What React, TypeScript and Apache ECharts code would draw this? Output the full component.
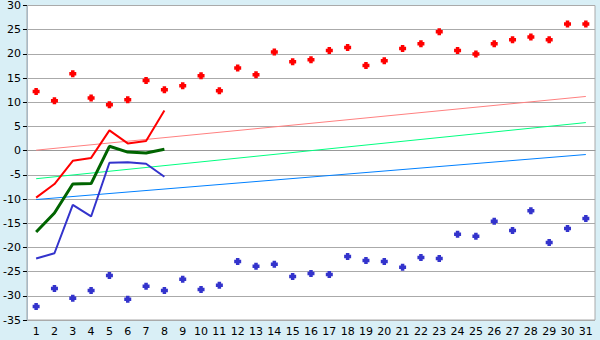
import React, { useEffect, useRef } from "react";
import * as echarts from "echarts";

const days = Array.from({ length: 31 }, (_, i) => String(i + 1));

const redPoints = [12.2, 10.3, 15.9, 10.9, 9.5, 10.5, 14.5, 12.6, 13.4, 15.5, 12.4, 17.1, 15.7, 20.4, 18.4, 18.8, 20.7, 21.3, 17.6, 18.6, 21.1, 22.1, 24.6, 20.7, 20.0, 22.1, 22.9, 23.5, 22.9, 26.2, 26.2];
const bluePoints = [-32.2, -28.5, -30.5, -28.9, -25.8, -30.7, -28.0, -28.9, -26.6, -28.7, -27.8, -22.9, -23.9, -23.5, -26.0, -25.4, -25.6, -21.9, -22.7, -22.9, -24.1, -22.1, -22.3, -17.3, -17.7, -14.6, -16.5, -12.4, -19.0, -16.1, -14.0];
const redLine = [-9.7, -6.9, -2.1, -1.5, 4.2, 1.5, 2.0, 8.3];
const greenLine = [-16.8, -12.9, -6.9, -6.8, 0.9, -0.3, -0.5, 0.3];
const blueLine = [-22.3, -21.2, -11.2, -13.6, -2.5, -2.4, -2.7, -5.4];
// trend lines: only start (day 1) and end (day 31) values
const pinkTrend = [0.1, 11.2];
const greenTrend = [-5.8, 5.8];
const blueTrend = [-10.1, -0.8];

const yTicks = { min: -35, max: 30, interval: 5 };

const endpoints = (pair: number[]) =>
  days.map((_, i) => (i === 0 ? pair[0] : i === days.length - 1 ? pair[1] : null));

const plus = "path://M1.5,0H4.5V1.5H6V4.5H4.5V6H1.5V4.5H0V1.5H1.5Z";

export default function App() {
  const ref = useRef<HTMLDivElement>(null);
  useEffect(() => {
    document.body.style.margin = "0";
    const chart = echarts.init(ref.current!, null, { renderer: "svg" });
    const trend = (data: number[], color: string) => ({
      type: "line",
      data: endpoints(data),
      connectNulls: true,
      showSymbol: false,
      symbol: "none",
      lineStyle: { color, width: 1 },
      z: 2,
    });
    const line = (data: number[], color: string, width: number) => ({
      type: "line",
      data,
      symbol: "none",
      lineStyle: { color, width },
      z: 3,
    });
    const scatter = (data: number[], color: string) => ({
      type: "scatter",
      data,
      symbol: plus,
      symbolSize: 7,
      itemStyle: { color, opacity: 1 },
      z: 4,
    });
    chart.setOption({
      animation: false,
      backgroundColor: "#d9eff6",
      textStyle: { fontFamily: "DejaVu Sans" },
      grid: {
        left: 26,
        right: 5,
        top: 5,
        bottom: 20,
        show: true,
        backgroundColor: "#ffffff",
        borderColor: "#aaaaaa",
        borderWidth: 1,
      },
      xAxis: {
        type: "category",
        data: days,
        boundaryGap: true,
        axisLine: { lineStyle: { color: "#999999" } },
        axisTick: { alignWithLabel: true, length: 5, lineStyle: { color: "#000" } },
        axisLabel: { color: "#000", fontSize: 11, margin: 6 },
        splitLine: { show: false },
      },
      yAxis: {
        type: "value",
        min: yTicks.min,
        max: yTicks.max,
        interval: yTicks.interval,
        axisLine: { show: true, lineStyle: { color: "#a8b8c4" } },
        axisTick: { show: true, length: 4, lineStyle: { color: "#000" } },
        axisLabel: { color: "#000", fontSize: 11, margin: 6 },
        splitLine: { lineStyle: { color: "#aaaaaa", width: 1 } },
      },
      series: [
        trend(pinkTrend, "#ff8080"),
        trend(greenTrend, "#00ff80"),
        trend(blueTrend, "#0080ff"),
        line(redLine, "#ff0000", 2),
        line(greenLine, "#006400", 3),
        line(blueLine, "#3333cc", 2),
        scatter(redPoints, "#ff0000"),
        scatter(bluePoints, "#3333cc"),
      ],
    });
    return () => chart.dispose();
  }, []);
  return <div ref={ref} style={{ width: 600, height: 340 }} />;
}
